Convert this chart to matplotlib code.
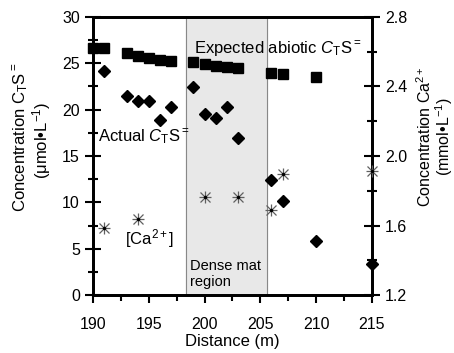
import numpy as np
import matplotlib.pyplot as plt
from matplotlib.ticker import MultipleLocator

plt.rcParams['font.family'] = ['Liberation Sans', 'DejaVu Sans']
plt.rcParams['mathtext.fontset'] = 'custom'
plt.rcParams['mathtext.rm'] = 'Liberation Sans'
plt.rcParams['mathtext.it'] = 'Liberation Sans:italic'

# expected abiotic CtS= (umol/L)
exp_x = [190, 191, 193, 194, 195, 196, 197, 199, 200, 201, 202, 203, 206, 207, 210]
exp_y = [26.7, 26.6, 26.1, 25.8, 25.6, 25.4, 25.2, 25.1, 24.9, 24.7, 24.6, 24.5, 24.0, 23.9, 23.5]

# actual CtS= (umol/L)
act_x = [191, 193, 194, 195, 196, 197, 199, 200, 201, 202, 203, 206, 207, 210, 215]
act_y = [24.2, 21.5, 20.9, 20.9, 18.85, 20.3, 22.4, 19.5, 19.1, 20.3, 16.9, 12.4, 10.2, 5.8, 3.4]

# Ca2+ (mmol/L)
ca_x = [191, 194, 200, 203, 206, 207, 215]
ca_y = [1.585, 1.637, 1.766, 1.766, 1.69, 1.895, 1.915]

mat_start, mat_end = 198.35, 205.6

W, H = 454, 353
fig = plt.figure(figsize=(4.54, 3.53), dpi=100)
ax = fig.add_axes([0.205, 0.164, 0.614, 0.788])
ax2 = ax.twinx()

ax.axvspan(mat_start, mat_end, color='#e8e8e8', zorder=0)
ax.axvline(mat_start, color='#888888', lw=0.8, zorder=1)
ax.axvline(mat_end, color='#888888', lw=0.8, zorder=1)

ax.plot(exp_x, exp_y, 's', color='black', ms=7, clip_on=False, zorder=5)
ax.plot(act_x, act_y, 'D', color='black', ms=6.5, clip_on=False, zorder=5)
ax2.plot(ca_x, ca_y, '+', color='#606060', ms=9, mew=0.9, clip_on=False, zorder=5)
ax2.plot(ca_x, ca_y, 'x', color='#606060', ms=7, mew=0.9, clip_on=False, zorder=5)
ax2.plot(ca_x, ca_y, '.', color='black', ms=3, clip_on=False, zorder=6)

ax.set_xlim(190, 215)
ax.set_ylim(0, 30)
ax2.set_ylim(1.2, 2.8)
ax.xaxis.set_major_locator(MultipleLocator(5))
ax.xaxis.set_minor_locator(MultipleLocator(2.5))
ax.yaxis.set_major_locator(MultipleLocator(5))
ax.yaxis.set_minor_locator(MultipleLocator(2.5))
ax2.yaxis.set_major_locator(MultipleLocator(0.4))
ax2.yaxis.set_minor_locator(MultipleLocator(0.2))
ax2.set_yticks([1.2, 1.6, 2.0, 2.4, 2.8])
ax2.set_yticklabels(['1.2', '1.6', '2.0', '2.4', '2.8'])

for a in (ax, ax2):
    for s in a.spines.values():
        s.set_linewidth(2)
ax.tick_params(axis='y', which='major', direction='inout', length=12, width=1.5, labelsize=11.5)
ax.tick_params(axis='y', which='minor', direction='inout', length=7, width=1.5)
ax.tick_params(axis='x', which='major', direction='out', length=6, width=1.5, labelsize=11.5, pad=10)
ax.tick_params(axis='x', which='minor', direction='out', length=4, width=1.5)
ax2.tick_params(axis='y', which='major', direction='inout', length=12, width=1.5, labelsize=11.5)
ax2.tick_params(axis='y', which='minor', direction='inout', length=7, width=1.5)

ax.set_xlabel('Distance (m)', fontsize=12, labelpad=1)

# axis titles, two lines each, placed by pixel
fig.text(21 / W, 1 - 137 / H, 'Concentration C$_\\mathrm{T}$S$^{=}$', rotation=90,
         ha='center', va='center', fontsize=12)
fig.text(42 / W, 1 - 140 / H, '(\u03bcmol\u2022L$^{-1}$)', rotation=90,
         ha='center', va='center', fontsize=12)
fig.text(425 / W, 1 - 137 / H, 'Concentration Ca$^{2+}$', rotation=90,
         ha='center', va='center', fontsize=11.5)
fig.text(444 / W, 1 - 137 / H, '(mmol\u2022L$^{-1}$)', rotation=90,
         ha='center', va='center', fontsize=11.5)

ax.text(199.05, 26.5, 'Expected abiotic $\\mathit{C}_\\mathrm{T}$S$^{=}$', fontsize=12, va='center', zorder=6)
ax.text(190.45, 17.0, 'Actual $\\mathit{C}_\\mathrm{T}$S$^{=}$', fontsize=12, va='center', zorder=6)
ax.text(192.9, 6.1, '[Ca$^{2+}$]', fontsize=12, va='center', zorder=6)
ax.text(198.7, 2.3, 'Dense mat\nregion', fontsize=10.5, va='center', linespacing=1.2, zorder=6)

fig.savefig('out.png', dpi=100)
